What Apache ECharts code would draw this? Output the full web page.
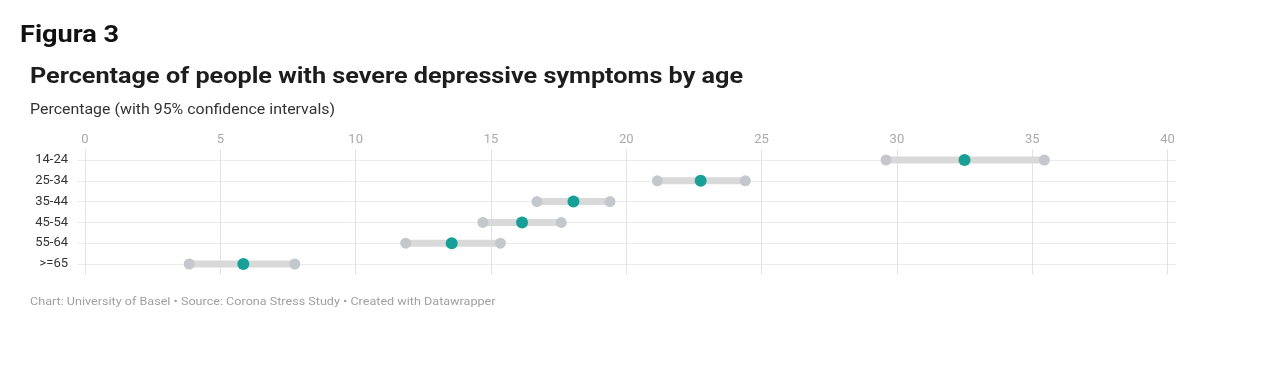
<!DOCTYPE html>
<html>
<head>
<meta charset="utf-8">
<script src="https://cdn.jsdelivr.net/npm/echarts@6/dist/echarts.min.js"></script>
<style>html,body{margin:0;padding:0;background:#fff;}#c{width:1280px;height:392px;}</style>
</head>
<body>
<div id="c"></div>
<script>
const categories = ['14-24', '25-34', '35-44', '45-54', '55-64', '>=65'];
const lowValues  = [29.6, 21.15, 16.7, 14.7, 11.85, 3.85];
const midValues  = [32.5, 22.75, 18.05, 16.15, 13.55, 5.85];
const highValues = [35.45, 24.4, 19.4, 17.6, 15.35, 7.75];
const xTicks = [0, 5, 10, 15, 20, 25, 30, 35, 40];

const FONT = 'Roboto, "Liberation Sans", sans-serif';
const chart = echarts.init(document.getElementById('c'), null, {renderer: 'canvas'});

const rangeData = categories.map((c, i) => [lowValues[i], highValues[i], c]);

function label(text, x, y, size, weight, color, sx) {
  return {type: 'text', x: x, y: y, scaleX: sx, z: 10,
    style: {text: text, font: weight + ' ' + size + 'px ' + FONT, fill: color,
      textAlign: 'left', textVerticalAlign: 'middle'}};
}

chart.setOption({
  backgroundColor: '#ffffff',
  animation: false,
  textStyle: {fontFamily: FONT},
  graphic: [
    label('Figura 3', 20, 36, 24, 'bold', '#111111', 1.13),
    label('Percentage of people with severe depressive symptoms by age', 30, 77, 22, 'bold', '#1d1d1d', 1.146),
    label('Percentage (with 95% confidence intervals)', 30, 110.5, 14, 'normal', '#333333', 1.138),
    label('Chart: University of Basel • Source: Corona Stress Study • Created with Datawrapper', 30, 302, 11, 'normal', '#a0a0a0', 1.145)
  ],
  grid: [
    {left: 77, width: 1099, top: 160, height: 104},
    {left: 85, width: 1082.5, top: 149.6, height: 124.8}
  ],
  xAxis: [
    {gridIndex: 0, type: 'value', min: 0, max: 40, show: false},
    {gridIndex: 1, type: 'value', min: 0, max: 40, interval: 5, position: 'top',
      axisLine: {show: false}, axisTick: {show: false},
      axisLabel: {color: '#aaaaaa', fontSize: 13, margin: 3, fontFamily: FONT,
        customValues: xTicks},
      splitLine: {show: true, lineStyle: {color: '#e2e2e2', width: 1}}}
  ],
  yAxis: [
    {gridIndex: 0, type: 'category', data: categories, inverse: true, boundaryGap: false,
      axisLine: {show: false}, axisTick: {show: false},
      axisLabel: {color: '#333', fontSize: 13, margin: 9, fontFamily: FONT},
      splitLine: {show: true, lineStyle: {color: '#ececec', width: 1}}},
    {gridIndex: 1, type: 'category', data: categories, inverse: true, boundaryGap: true, show: false}
  ],
  series: [
    {
      type: 'custom', xAxisIndex: 1, yAxisIndex: 1, z: 2,
      data: rangeData,
      encode: {x: [0, 1], y: 2},
      renderItem: function (params, api) {
        const p1 = api.coord([api.value(0), api.value(2)]);
        const p2 = api.coord([api.value(1), api.value(2)]);
        return {type: 'line', shape: {x1: p1[0], y1: p1[1], x2: p2[0], y2: p2[1]},
          style: {stroke: '#d9d9d9', lineWidth: 7}};
      }
    },
    {type: 'scatter', xAxisIndex: 1, yAxisIndex: 1, z: 3, symbolSize: 11,
      itemStyle: {color: '#c4c7cc', opacity: 1},
      data: categories.map((c, i) => [lowValues[i], c])},
    {type: 'scatter', xAxisIndex: 1, yAxisIndex: 1, z: 3, symbolSize: 11,
      itemStyle: {color: '#c4c7cc', opacity: 1},
      data: categories.map((c, i) => [highValues[i], c])},
    {type: 'scatter', xAxisIndex: 1, yAxisIndex: 1, z: 4, symbolSize: 12,
      itemStyle: {color: '#17a097', opacity: 1},
      data: categories.map((c, i) => [midValues[i], c])}
  ]
});
</script>
</body>
</html>
